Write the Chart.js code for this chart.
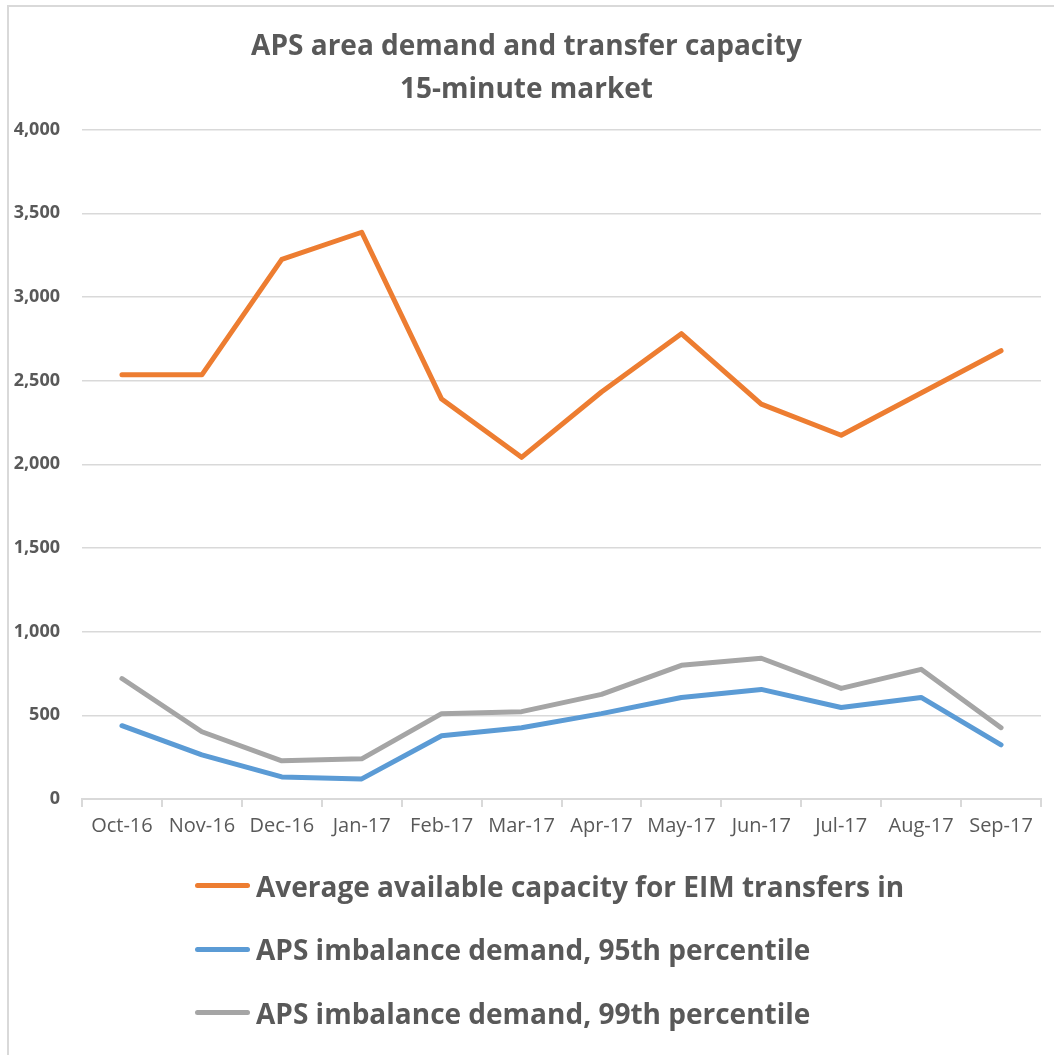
<!DOCTYPE html>
<html lang="en">
<head>
    <meta charset="UTF-8">
    <title>APS area demand and transfer capacity</title>
    <script src="https://cdn.jsdelivr.net/npm/chart.js"></script>
    <style>
        body {
            margin: 0;
            padding: 0;
            background: #fff;
        }

        #wrap {
            position: relative;
            width: 1054px;
            height: 1055px;
        }

        #frame {
            position: absolute;
            left: 7px;
            top: 5px;
            right: -10px;
            bottom: -10px;
            border-left: 2px solid #d9d9d9;
            border-top: 2px solid #d9d9d9;
            pointer-events: none;
        }

        #legend {
            position: absolute;
            left: 195px;
            top: 854px;
            font-family: "Open Sans", sans-serif;
            font-weight: bold;
            font-size: 28px;
            color: #595959;
        }

        .item {
            display: flex;
            align-items: center;
            height: 63.5px;
        }

        .swatch {
            width: 55px;
            height: 5px;
            border-radius: 3px;
            margin-right: 6px;
        }
    </style>
</head>
<body>
    <div id="wrap">
        <canvas id="chart" width="1054" height="1055"></canvas>
        <div id="frame"></div>
        <div id="legend"></div>
    </div>

    <script>
        const months = ['Oct-16', 'Nov-16', 'Dec-16', 'Jan-17', 'Feb-17', 'Mar-17',
                        'Apr-17', 'May-17', 'Jun-17', 'Jul-17', 'Aug-17', 'Sep-17'];

        const capacityIn = [2535, 2535, 3225, 3387, 2390, 2042, 2432, 2781, 2360, 2174, 2426, 2679];
        const demand95 = [438, 264, 132, 120, 378, 426, 510, 607, 655, 547, 607, 324];
        const demand99 = [720, 402, 228, 240, 510, 522, 625, 799, 841, 661, 775, 426];

        const FONT = '"Open Sans", sans-serif';
        const TEXT = '#595959';
        const GRID = '#d9d9d9';

        const line = (label, data, color) => ({
            label: label,
            data: data,
            borderColor: color,
            backgroundColor: color,
            borderWidth: 5,
            pointRadius: 0,
            tension: 0,
            borderCapStyle: 'round',
            borderJoinStyle: 'round'
        });

        const chart = new Chart(document.getElementById('chart'), {
            type: 'line',
            data: {
                labels: months,
                datasets: [
                    line('Average available capacity for EIM transfers in', capacityIn, '#ed7d31'),
                    line('APS imbalance demand, 95th percentile', demand95, '#5b9bd5'),
                    line('APS imbalance demand, 99th percentile', demand99, '#a5a5a5')
                ]
            },
            options: {
                responsive: false,
                animation: false,
                layout: {
                    padding: { left: 12, right: 13, top: 0, bottom: 210 }
                },
                scales: {
                    x: {
                        offset: true,
                        grid: {
                            offset: true,
                            drawOnChartArea: false,
                            color: GRID,
                            lineWidth: 2,
                            tickLength: 8
                        },
                        border: { color: GRID, width: 2 },
                        ticks: {
                            color: TEXT,
                            padding: 7,
                            maxRotation: 0,
                            autoSkip: false,
                            font: { family: FONT, size: 20 }
                        }
                    },
                    y: {
                        min: 0,
                        max: 4000,
                        afterFit: axis => { axis.width = 70; },
                        grid: {
                            color: GRID,
                            lineWidth: 1.5,
                            drawTicks: false
                        },
                        border: { display: false },
                        ticks: {
                            stepSize: 500,
                            color: TEXT,
                            padding: 22,
                            font: { family: FONT, size: 18, weight: 'bold' },
                            callback: v => v.toLocaleString('en-US')
                        }
                    }
                },
                plugins: {
                    legend: { display: false },
                    tooltip: { enabled: false },
                    title: {
                        display: true,
                        text: ['APS area demand and transfer capacity', '15-minute market'],
                        color: TEXT,
                        font: { family: FONT, size: 28, weight: 'bold', lineHeight: 1.53 },
                        padding: { top: 26, bottom: 18 }
                    }
                }
            }
        });

        // legend rows drawn as html so every row starts at the same x
        const legendBox = document.getElementById('legend');
        chart.data.datasets.forEach(ds => {
            const row = document.createElement('div');
            row.className = 'item';
            const sw = document.createElement('span');
            sw.className = 'swatch';
            sw.style.background = ds.borderColor;
            const txt = document.createElement('span');
            txt.textContent = ds.label;
            row.appendChild(sw);
            row.appendChild(txt);
            legendBox.appendChild(row);
        });
    </script>
</body>
</html>
